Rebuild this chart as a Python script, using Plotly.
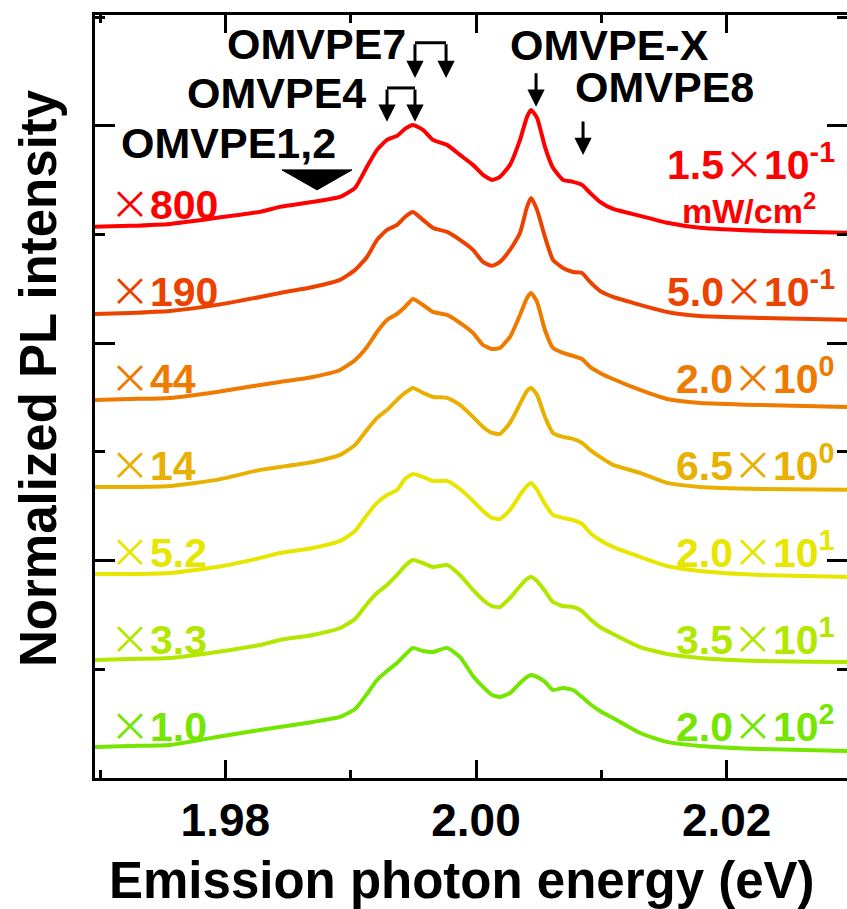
import plotly.graph_objects as go

# Photon energy grid (eV)
energy = [1.96960, 1.97239, 1.97558, 1.97933, 1.98277, 1.98436, 1.98699, 1.98915,
          1.99035, 1.99130, 1.99210, 1.99290, 1.99370, 1.99433, 1.99497, 1.99577,
          1.99657, 1.99769, 1.99872, 1.99976, 2.00056, 2.00128, 2.00191, 2.00271,
          2.00351, 2.00407, 2.00439, 2.00487, 2.00550, 2.00614, 2.00694, 2.00774,
          2.00846, 2.00910, 2.00989, 2.01093, 2.01309, 2.01524, 2.01787, 2.02266,
          2.02960]

# Normalized PL spectra (after multiplication factor), lowest to highest excitation power
pl_015 = [-0.009, 0.000, 0.018, 0.074, 0.129, 0.175, 0.221, 0.267, 0.350, 0.543, 0.699,
          0.791, 0.828, 0.893, 0.929, 0.883, 0.791, 0.745, 0.653, 0.561, 0.469, 0.423,
          0.451, 0.561, 0.791, 1.003, 1.067, 0.994, 0.727, 0.534, 0.423, 0.405, 0.377,
          0.304, 0.221, 0.156, 0.092, 0.028, -0.018, -0.046, -0.064]
pl_050 = [-0.010, -0.001, 0.017, 0.073, 0.146, 0.183, 0.238, 0.303, 0.395, 0.514, 0.671,
          0.763, 0.809, 0.882, 0.928, 0.855, 0.781, 0.744, 0.671, 0.579, 0.468, 0.432,
          0.468, 0.579, 0.735, 0.974, 1.057, 0.947, 0.698, 0.487, 0.413, 0.376, 0.367,
          0.284, 0.202, 0.146, 0.073, 0.008, -0.029, -0.047, -0.065]
pl_2 = [-0.002, 0.007, 0.017, 0.072, 0.136, 0.164, 0.210, 0.274, 0.366, 0.486, 0.624,
        0.734, 0.790, 0.854, 0.928, 0.872, 0.808, 0.780, 0.707, 0.615, 0.504, 0.467,
        0.477, 0.578, 0.780, 0.937, 0.983, 0.900, 0.642, 0.477, 0.431, 0.403, 0.375,
        0.302, 0.247, 0.191, 0.090, 0.007, -0.029, -0.048, -0.066]
pl_65 = [-0.002, -0.002, 0.007, 0.063, 0.155, 0.182, 0.228, 0.293, 0.385, 0.523, 0.633,
         0.707, 0.799, 0.863, 0.909, 0.863, 0.826, 0.817, 0.753, 0.642, 0.550, 0.495,
         0.486, 0.587, 0.762, 0.882, 0.909, 0.845, 0.642, 0.495, 0.458, 0.440, 0.403,
         0.339, 0.274, 0.201, 0.127, 0.035, -0.002, -0.020, -0.029]
pl_20 = [-0.003, -0.003, 0.006, 0.062, 0.144, 0.190, 0.236, 0.301, 0.393, 0.540, 0.651,
         0.724, 0.770, 0.871, 0.917, 0.890, 0.853, 0.853, 0.779, 0.669, 0.577, 0.513,
         0.503, 0.586, 0.724, 0.807, 0.835, 0.770, 0.641, 0.540, 0.513, 0.494, 0.457,
         0.375, 0.310, 0.246, 0.154, 0.071, 0.025, -0.012, -0.030]
pl_35 = [0.006, 0.015, 0.024, 0.079, 0.144, 0.190, 0.236, 0.300, 0.383, 0.521, 0.622,
         0.696, 0.788, 0.871, 0.926, 0.898, 0.861, 0.880, 0.788, 0.650, 0.558, 0.502,
         0.493, 0.576, 0.686, 0.751, 0.769, 0.732, 0.640, 0.539, 0.502, 0.493, 0.456,
         0.383, 0.309, 0.245, 0.125, 0.061, 0.024, -0.004, -0.013]
pl_200 = [0.006, 0.015, 0.024, 0.098, 0.162, 0.190, 0.236, 0.282, 0.355, 0.493, 0.622,
          0.705, 0.778, 0.852, 0.917, 0.889, 0.880, 0.917, 0.834, 0.659, 0.558, 0.484,
          0.466, 0.502, 0.594, 0.650, 0.668, 0.650, 0.604, 0.530, 0.548, 0.530, 0.466,
          0.401, 0.337, 0.272, 0.134, 0.052, 0.015, -0.013, -0.031]

spectra = [pl_015, pl_050, pl_2, pl_65, pl_20, pl_35, pl_200]
offsets = [5.08, 4.28, 3.48, 2.68, 1.88, 1.08, 0.28]
factors = ["800", "190", "44", "14", "5.2", "3.3", "1.0"]
powers = ["1.5", "5.0", "2.0", "6.5", "2.0", "3.5", "2.0"]
exponents = ["-1", "-1", "0", "0", "1", "1", "2"]
colors = ["#FF0000", "#EC4200", "#EE7A00", "#E8B000", "#E6E600", "#B2E800", "#74E600"]

FONT = "Liberation Sans, Arial, sans-serif"
# thin, wide multiplication sign
TIMES = ('<span style="font-family:Noto Sans CJK JP;font-weight:normal;'
         'font-size:40px">×</span>')

fig = go.Figure()

for spec, off, col in zip(spectra, offsets, colors):
    fig.add_trace(go.Scatter(
        x=energy, y=[v + off for v in spec], mode="lines",
        line=dict(color=col, width=4, shape="spline", smoothing=0.5),
        showlegend=False, hoverinfo="skip"))

# carrier for the right-hand tick axis
fig.add_trace(go.Scatter(x=[None], y=[None], yaxis="y2", showlegend=False, hoverinfo="skip"))

annotations = []
for i, (off, col) in enumerate(zip(offsets, colors)):
    annotations.append(dict(
        x=1.97064, y=off + 0.22, xref="x", yref="y", xanchor="left", yanchor="middle",
        text=TIMES + factors[i], showarrow=False,
        font=dict(family=FONT, size=41, color=col, weight="bold")))
    ylab = off + 0.59 if i == 0 else off + 0.22
    annotations.append(dict(
        x=2.02880, y=ylab, xref="x", yref="y", xanchor="right", yanchor="middle",
        text=powers[i] + TIMES + "10<sup>" + exponents[i] + "</sup>", showarrow=False,
        font=dict(family=FONT, size=41, color=col, weight="bold")))

annotations.append(dict(
    x=2.02178, y=offsets[0] + 0.156, xref="x", yref="y", xanchor="center", yanchor="middle",
    text="mW/cm<sup>2</sup>", showarrow=False,
    font=dict(family=FONT, size=34, color=colors[0], weight="bold")))

# axis titles
annotations.append(dict(
    x=-0.076, y=0.524, xref="paper", yref="paper", xanchor="center", yanchor="middle",
    text="Normalized PL intensity", textangle=-90, showarrow=False,
    font=dict(family=FONT, size=51, color="black", weight="bold")))
annotations.append(dict(
    x=0.488, y=-0.134, xref="paper", yref="paper", xanchor="center", yanchor="middle",
    text="Emission photon energy (eV)", showarrow=False,
    font=dict(family=FONT, size=51, color="black", weight="bold")))

# peak labels
peak_font = dict(family=FONT, size=43, color="black", weight="bold")
peak_labels = [
    dict(x=1.99457, y=6.754, xanchor="right", text="OMVPE7"),
    dict(x=1.99138, y=6.303, xanchor="right", text="OMVPE4"),
    dict(x=1.98029, y=5.843, xanchor="center", text="OMVPE1,2"),
    dict(x=2.01069, y=6.745, xanchor="center", text="OMVPE-X"),
    dict(x=2.01500, y=6.359, xanchor="center", text="OMVPE8"),
]
for a in peak_labels:
    a.update(xref="x", yref="y", yanchor="middle", showarrow=False, font=peak_font)
annotations += peak_labels

# downward arrows marking peak positions: (x, tail y, tip y)
arrows = [
    (1.99513, 6.764, 6.441), (1.99761, 6.764, 6.441),
    (1.99290, 6.349, 6.037), (1.99513, 6.349, 6.037),
    (2.00479, 6.497, 6.175),
    (2.00854, 6.055, 5.733),
]
for xa, y0, y1 in arrows:
    annotations.append(dict(
        x=xa, y=y1, ax=xa, ay=y0, xref="x", yref="y", axref="x", ayref="y",
        text="", showarrow=True, arrowhead=2, arrowsize=1.15, arrowwidth=3,
        arrowcolor="black"))

shapes = [
    dict(type="line", xref="x", yref="y", x0=1.99513, x1=1.99761, y0=6.764, y1=6.764,
         line=dict(color="black", width=3)),
    dict(type="line", xref="x", yref="y", x0=1.99290, x1=1.99513, y0=6.349, y1=6.349,
         line=dict(color="black", width=3)),
    dict(type="path", xref="x", yref="y",
         path="M 1.98452,5.595 L 1.99011,5.595 L 1.98731,5.411 Z",
         fillcolor="black", line=dict(color="black", width=1)),
]

fig.update_layout(
    width=847, height=909,
    margin=dict(l=95, r=0, t=15, b=131),
    plot_bgcolor="white", paper_bgcolor="white",
    showlegend=False,
    annotations=annotations, shapes=shapes,
    xaxis=dict(
        range=[1.9696, 2.0296], showline=True, linecolor="black", linewidth=3,
        mirror="ticks", ticks="inside", ticklen=18, tickwidth=2.5, tickcolor="black",
        tick0=1.98, dtick=0.02, tickformat=".2f",
        minor=dict(dtick=0.01, tick0=1.98, ticks="inside", ticklen=8, tickwidth=2.5,
                   tickcolor="black", showgrid=False),
        showgrid=False, zeroline=False,
        tickfont=dict(family=FONT, size=46, color="black", weight="bold"),
    ),
    yaxis=dict(
        range=[0, 7.02], showline=True, linecolor="black", linewidth=3, mirror=False,
        ticks="inside", ticklen=20, tickwidth=2.5, tickcolor="black",
        tick0=0, dtick=2,
        minor=dict(dtick=1, tick0=0, ticks="inside", ticklen=10, tickwidth=2.5,
                   tickcolor="black", showgrid=False),
        showticklabels=False, showgrid=False, zeroline=False,
    ),
    yaxis2=dict(
        overlaying="y", side="right", anchor="x", range=[0, 7.02],
        showline=False, ticks="inside", ticklen=20, tickwidth=2.5, tickcolor="black",
        tick0=0, dtick=2,
        minor=dict(dtick=1, tick0=0, ticks="inside", ticklen=10, tickwidth=2.5,
                   tickcolor="black", showgrid=False),
        showticklabels=False, showgrid=False, zeroline=False,
    ),
)

fig.write_html("out.html")
